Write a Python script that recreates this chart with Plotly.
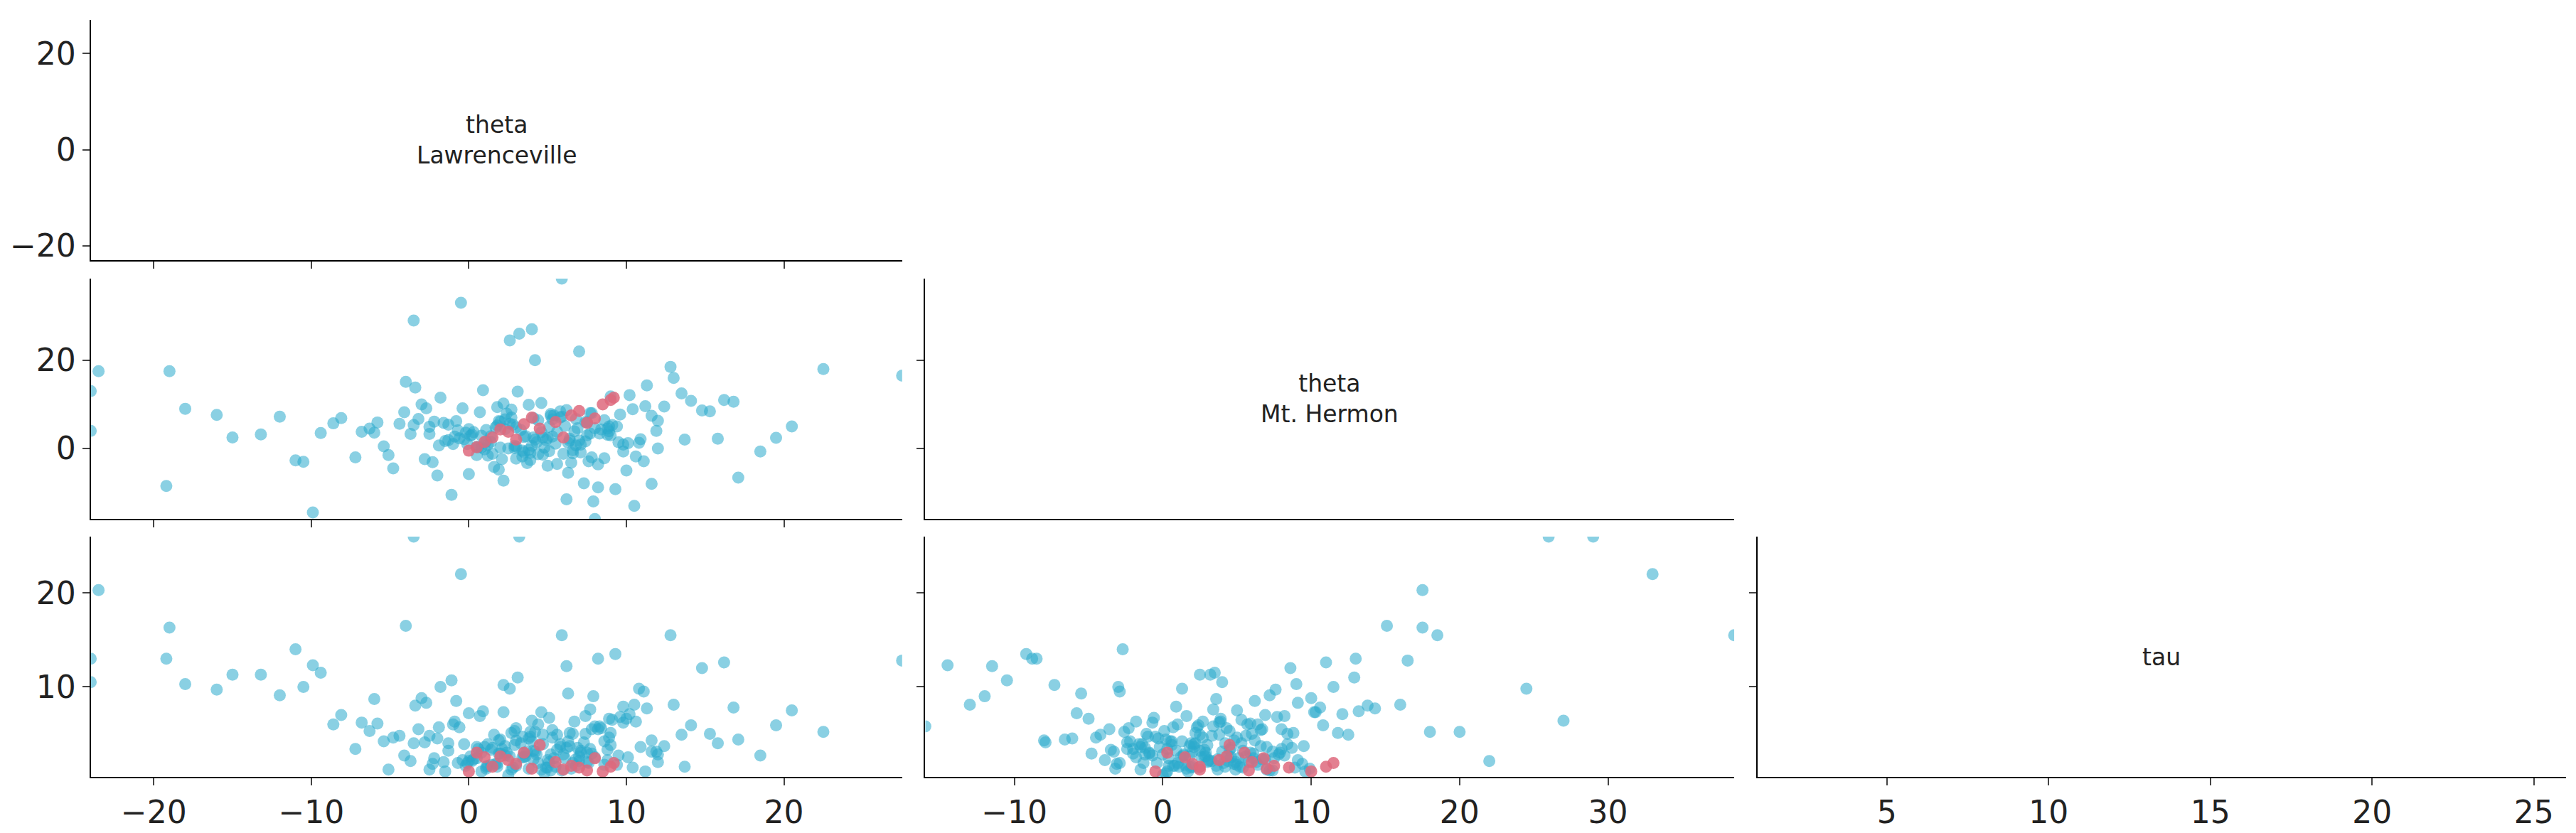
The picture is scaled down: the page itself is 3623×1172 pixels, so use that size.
import plotly.graph_objects as go

theta_law = [4.1,-2.3,7.8,0.5,10.2,3.3,-5.1,6.7,12.4,1.9,
-0.8,5.5,8.9,2.2,-3.7,14.1,4.8,-7.2,9.6,0.1,
6.3,3.0,-1.5,11.3,7.1,-9.4,2.7,5.0,16.2,-4.4,
1.2,8.2,-0.3,4.4,13.0,6.0,-6.3,3.8,10.8,-2.0,
7.5,0.9,-11.0,5.8,2.5,9.1,-1.1,15.3,3.5,6.6,
-3.0,11.9,1.6,4.9,-8.1,7.9,0.3,12.8,2.9,-5.8,
8.6,5.2,-0.6,3.1,18.5,6.9,-2.7,10.0,1.4,4.2,
-13.2,7.3,2.0,9.8,-4.0,5.6,0.7,13.7,3.9,-1.8,
6.1,-9.9,8.4,2.4,11.1,-0.1,4.6,17.1,-6.8,7.0,
1.0,5.3,-3.4,9.3,3.6,-24.0,27.5,-23.5,22.5,-19.0,
-18.0,-19.2,20.5,-15.0,-10.5,14.8,3.2,-3.5,-0.5,5.9,
8.0,2.6,10.5,-2.5,4.0,6.4,12.0,-4.8,0.8,7.7,
-12.0,3.4,9.0,15.8,-1.3,5.1,1.8,-6.0,11.6,4.3,
-24.0,19.5,-16.0,2.1,6.8,-8.6,13.5,0.0,8.8,-3.2,
4.7,10.4,-0.9,6.2,2.3,-5.4,16.8,3.7,7.4,1.1,
# dense core
0.2,1.5,2.8,4.0,5.2,6.4,7.6,8.8,-1.0,-2.2,
3.4,4.6,5.8,7.0,8.2,9.4,0.8,2.0,-0.4,10.6,
1.1,2.3,3.5,4.7,5.9,7.1,8.3,-1.6,-2.8,9.5,
0.5,1.7,2.9,4.1,5.3,6.5,7.7,8.9,10.1,-3.5,
3.0,4.2,5.4,6.6,-0.7,1.9,7.8,9.0,11.2,-1.9,
2.6,3.8,5.0,6.2,7.4,0.0,1.2,8.6,-2.5,12.0,
1.4,2.7,3.9,5.1,6.3,7.5,-0.2,9.8,-4.1,10.9,
4.4,5.6,6.8,0.6,1.8,3.0,8.0,-1.3,11.6,2.2]

theta_mth = [2.5,-3.1,8.0,0.4,12.1,4.2,-1.5,3.9,9.5,-4.8,
6.2,1.1,5.0,-7.3,3.3,10.8,0.2,-2.0,7.7,2.9,
-5.5,4.8,1.7,14.3,-0.9,3.5,8.8,-3.9,11.0,5.6,
0.8,-8.8,2.1,6.4,16.0,-1.2,4.5,9.9,1.3,-6.1,
3.0,13.2,-2.7,7.0,0.0,5.3,-10.5,8.4,2.6,-0.4,
10.0,4.0,-4.2,1.9,6.9,-12.0,3.7,18.5,0.6,5.9,
-2.2,7.4,2.3,12.9,-0.7,4.6,9.1,-5.0,1.5,20.0,
3.2,-7.9,6.1,0.9,15.1,-3.5,8.2,2.0,-1.0,11.5,
5.1,-14.5,4.3,7.9,-2.9,1.0,10.3,-6.6,3.8,22.0,
-0.2,6.6,13.8,-9.2,2.8,13.0,16.5,17.5,18.0,17.5,
9.0,-8.5,5.0,2.5,-3.0,8.6,26.0,29.0,33.0,38.5,
-16.0,24.5,-13.0,4.9,27.0,1.8,6.3,-4.5,0.3,3.4,
7.2,-1.8,11.8,2.2,5.4,-0.6,9.4,3.6,-8.0,1.4,
4.0,2.4,7.6,-2.4,0.7,5.7,12.5,-5.8,3.1,6.7,
-1.4,8.9,2.7,-11.5,4.4,0.5,10.6,-3.3,6.0,1.6,
# dense core
3.1,-1.2,5.4,0.6,7.8,2.2,-2.9,4.5,1.0,6.1,
-0.5,3.7,8.4,1.8,-3.6,5.0,2.9,0.2,9.1,-1.8,
4.2,6.6,-0.9,2.5,7.2,0.9,3.4,5.8,-2.4,1.4,
-1.5,4.8,0.1,6.9,2.7,-3.2,8.0,3.9,1.2,5.3,
0.4,2.0,7.5,-1.1,4.1,6.2,-2.0,3.0,9.6,0.7,
5.6,-0.3,2.4,8.7,1.6,4.4,-1.6,6.4,3.3,0.0,
2.8,7.0,-2.6,4.9,1.3,5.9,3.6,-0.7,8.2,2.1,
-1.3,3.8,6.7,0.3,5.2,-2.3,4.6,1.9,7.4,10.2]

tau = [3.2,1.8,5.5,2.4,7.1,4.0,1.2,6.3,3.7,2.9,
8.5,1.5,4.6,10.2,2.1,5.9,0.8,3.4,6.8,2.6,
9.3,4.3,1.0,7.7,3.0,11.5,5.1,2.2,12.6,4.8,
1.6,13.0,3.9,6.0,8.1,2.8,5.3,1.3,9.8,4.5,
2.0,7.4,14.0,3.6,0.6,6.5,10.7,5.0,2.5,1.9,
8.8,3.1,4.9,1.4,7.0,9.0,2.3,15.5,3.8,6.1,
4.2,1.1,5.7,11.0,2.7,3.5,8.3,6.6,1.7,5.2,
11.3,4.1,2.9,7.9,16.5,3.3,6.9,1.5,4.7,10.0,
2.4,12.3,5.6,3.0,9.5,1.9,7.3,4.4,6.2,2.1,
3.6,5.4,8.0,13.5,2.6,13.0,12.8,20.3,5.2,16.3,
10.3,13.0,7.5,11.3,10.0,12.0,26.0,26.0,22.0,15.5,
5.8,9.8,8.1,1.2,6.4,3.7,2.0,4.6,1.0,7.6,
9.1,2.5,5.1,4.0,3.2,6.7,1.8,8.7,4.3,2.8,
10.5,5.9,9.7,3.4,1.6,6.0,4.9,7.2,2.2,5.5,
3.9,1.4,6.3,12.2,2.7,4.2,7.8,3.1,5.0,1.3,
# dense core
2.1,3.5,1.4,4.2,2.8,5.1,1.9,3.3,6.0,2.4,
4.7,1.2,3.9,2.6,5.5,1.7,3.0,4.4,2.2,6.3,
1.5,3.7,2.9,4.9,1.1,3.2,5.8,2.0,4.1,2.7,
3.6,1.8,5.3,2.3,4.6,1.3,3.4,6.6,2.5,4.0,
1.6,3.1,2.4,5.0,1.9,4.3,2.9,3.8,1.0,5.7,
2.6,4.5,1.4,3.5,6.9,2.1,3.9,1.7,4.8,2.8,
3.3,1.2,5.2,2.0,4.2,3.0,1.6,6.2,2.7,3.6,
1.9,4.9,2.3,3.4,1.5,5.6,2.5,4.0,3.1,7.3]

# divergent draws
div_law = [0, 0.5, 1, 1.5, 2.5, 3, 4.5, 5.5, 6, 6.5, 7, 7.5, 8, 8.5, 9, 9.2, 3.5, 4, 2]
div_mth = [-0.5, 0.3, 1.5, 2.5, 3.8, 2, 4.5, 6, 2.5, 7.5, 8.5, 5.8, 6.8, 10, 11, 11.5, 5.5, 7, 4.3]
div_tau = [1.0, 3.0, 2.5, 1.5, 2.2, 1.8, 3.8, 2.0, 1.2, 1.6, 1.4, 1.1, 2.4, 1.0, 1.5, 1.9, 3.0, 1.3, 2.6]

BLUE = "rgba(42,170,204,0.55)"
RED = "rgba(222,105,125,0.85)"

cols = [[0.033, 0.348], [0.357, 0.671], [0.680, 0.994]]
rows = [[0.693, 0.983], [0.381, 0.671], [0.070, 0.360]]
xr = [[-24, 27.5], [-16, 38.5], [1, 26]]
yr = [[-23, 27], [-16, 38.5], [0.4, 26]]

fig = go.Figure()
layout = {}
ax = dict(showline=True, linecolor="black", linewidth=2, ticks="outside",
          ticklen=10, tickwidth=2, showgrid=False, zeroline=False,
          tickfont=dict(size=44, color="#222"))

panels = {}
n = 0
for r in range(3):
    for c in range(r + 1):
        n += 1
        s = "" if n == 1 else str(n)
        panels[(r, c)] = s
        xa = dict(ax, domain=cols[c], range=xr[c], anchor="y" + s)
        ya = dict(ax, domain=rows[r], range=yr[r], anchor="x" + s)
        xa["showticklabels"] = r == 2
        ya["showticklabels"] = c == 0
        if r == 1 and c == 1:
            xa["ticks"] = ""
        if c == 0 and r == 0:
            ya["tickvals"] = [-20, 0, 20]
        if r == 1:
            ya["tickvals"] = [0, 20]
        if r == 2:
            ya["tickvals"] = [10, 20]
        if c == 2:
            xa["tickvals"] = [5, 10, 15, 20, 25]
        layout["xaxis" + s] = xa
        layout["yaxis" + s] = ya

data = {0: theta_law, 1: theta_mth, 2: tau}
div = {0: div_law, 1: div_mth, 2: div_tau}
for (r, c), s in panels.items():
    if r == c:
        # empty trace so the diagonal axes are drawn
        fig.add_trace(go.Scatter(x=[None], y=[None], mode="markers", xaxis="x" + s,
                                 yaxis="y" + s, showlegend=False, hoverinfo="skip"))
        continue
    for xs, ys, col in [(data[c], data[r], BLUE), (div[c], div[r], RED)]:
        fig.add_trace(go.Scatter(x=xs, y=ys, mode="markers", xaxis="x" + s, yaxis="y" + s,
                                 marker=dict(size=17, color=col, line=dict(width=0)),
                                 showlegend=False))

labels = ["theta<br>Lawrenceville", "theta<br>Mt. Hermon", "tau"]
for i in range(3):
    s = panels[(i, i)]
    fig.add_annotation(text=labels[i], xref="x" + s + " domain", yref="y" + s + " domain",
                       x=0.5, y=0.5, showarrow=False, font=dict(size=33, color="#222"))

fig.update_layout(**layout, width=3623, height=1172, plot_bgcolor="white",
                  paper_bgcolor="white", margin=dict(l=0, r=0, t=0, b=0),
                  font=dict(family="DejaVu Sans"))
fig.write_html("out.html")
